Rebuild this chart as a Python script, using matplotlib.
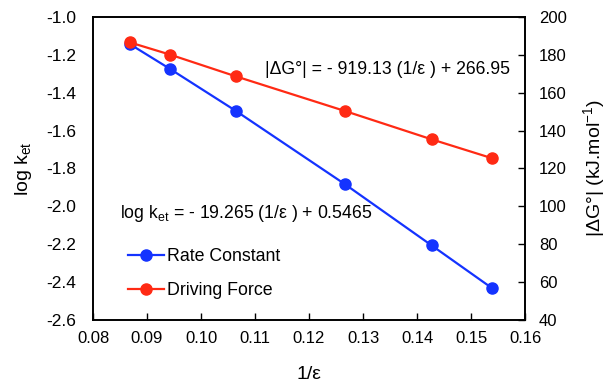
import matplotlib
matplotlib.use("Agg")
import matplotlib.pyplot as plt

plt.rcParams['font.family'] = ['Liberation Sans', 'DejaVu Sans']
plt.rcParams['mathtext.default'] = 'regular'

# data
inv_eps = [0.0868, 0.0943, 0.1064, 0.1266, 0.1427, 0.1538]
log_ket = [-1.143, -1.275, -1.495, -1.882, -2.206, -2.430]
delta_g = [186.6, 180.1, 168.7, 150.4, 135.4, 125.5]

blue = '#1433ff'
red = '#ff2a14'

fig = plt.figure(figsize=(6.08, 3.86), dpi=100)
ax = fig.add_axes([0.153, 0.171, 0.7105, 0.785])
ax2 = ax.twinx()

l1, = ax.plot(inv_eps, log_ket, color=blue, lw=1.6, marker='o', ms=8,
              label='Rate Constant')
l2, = ax2.plot(inv_eps, delta_g, color=red, lw=1.6, marker='o', ms=8,
               label='Driving Force')

ax.set_xlim(0.08, 0.16)
ax.set_ylim(-2.6, -1.0)
ax2.set_ylim(40, 200)
ax.set_xticks([0.08, 0.09, 0.10, 0.11, 0.12, 0.13, 0.14, 0.15, 0.16])
ax.set_xticklabels(['0.08', '0.09', '0.10', '0.11', '0.12', '0.13', '0.14', '0.15', '0.16'])
ax.set_yticks([-1.0, -1.2, -1.4, -1.6, -1.8, -2.0, -2.2, -2.4, -2.6])
ax.set_yticklabels(['-1.0', '-1.2', '-1.4', '-1.6', '-1.8', '-2.0', '-2.2', '-2.4', '-2.6'])
ax2.set_yticks(range(40, 201, 20))

ax.tick_params(axis='x', direction='in', length=5, width=1, labelsize=12, pad=8)
ax.tick_params(axis='y', length=0, labelsize=12.5, pad=12)
ax2.tick_params(axis='y', direction='in', length=5, width=1, labelsize=12, pad=10)
for a in (ax, ax2):
    for s in a.spines.values():
        s.set_linewidth(1.2)

ax.set_xlabel('1/ε', fontsize=14, labelpad=14)
ax.set_ylabel('log k$_{et}$', fontsize=14, labelpad=9)
ax2.set_ylabel('|ΔG°| (kJ.mol$^{-1}$)', fontsize=14, labelpad=10)

ax.text(0.398, 0.828, '|ΔG°| = - 919.13 (1/ε ) + 266.95', transform=ax.transAxes,
        fontsize=12.7, va='center', ha='left')
ax.text(0.0625, 0.353, 'log k$_{et}$ = - 19.265 (1/ε ) + 0.5465', transform=ax.transAxes,
        fontsize=12.7, va='center', ha='left')

ax2.legend(handles=[l1, l2], loc='upper left', bbox_to_anchor=(0.065, 0.26),
           frameon=False, fontsize=12.8, handlelength=2.0, handletextpad=0.2,
           labelspacing=0.95, borderaxespad=0)

fig.savefig('out.png', dpi=100)
